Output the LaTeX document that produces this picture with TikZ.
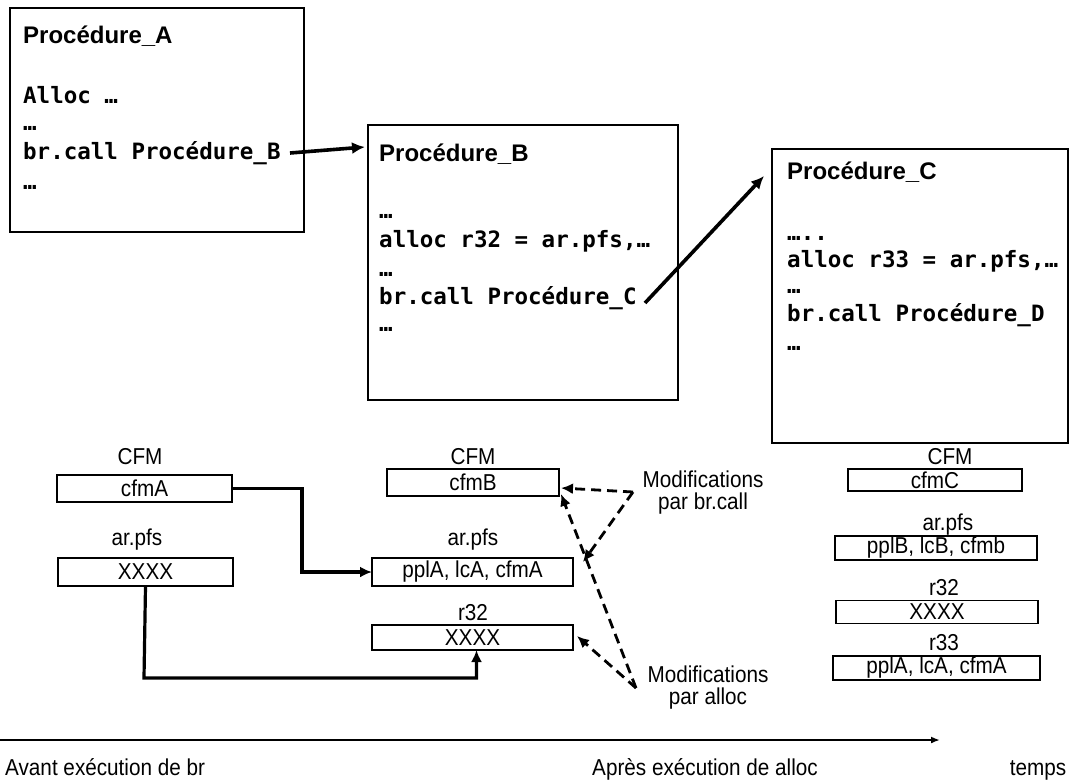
\documentclass[tikz,border=0pt]{standalone}
\usepackage{fontspec}
\setmainfont{Liberation Sans}
\newfontfamily\narrowfont[FakeStretch=0.9]{Liberation Sans}
\newfontfamily\codefont{DejaVu Sans Mono}
\usetikzlibrary{arrows.meta}
\tikzset{
  procbox/.style={draw, line width=2.6pt, inner sep=0pt, outer sep=0pt, anchor=north west},
  ptitle/.style={anchor=west, inner sep=0pt, font=\bfseries\fontsize{24}{24}\selectfont},
  code/.style={anchor=base west, inner sep=0pt, font=\codefont\bfseries\fontsize{22.5}{22.5}\selectfont},
  regbox/.style={draw, line width=1.7pt, inner sep=0pt, outer sep=0pt, font=\narrowfont\fontsize{23}{23}\selectfont},
  reglabel/.style={inner sep=0pt, font=\narrowfont\fontsize{23}{23}\selectfont},
  lbl/.style={inner sep=0pt, font=\narrowfont\fontsize{23}{23}\selectfont},
  callarrow/.style={line width=3.6pt, -{Latex[length=13pt,width=12pt]}},
  conn/.style={line width=3.2pt, -{Latex[length=12pt,width=11pt]}},
  dasharrow/.style={line width=2.8pt, dash pattern=on 10pt off 6pt, -{Latex[length=12pt,width=11pt]}},
  timeline/.style={line width=1.8pt, -{Latex[length=9pt,width=7pt]}}
}
\begin{document}
\begin{tikzpicture}[x=1pt,y=-1pt]
\useasboundingbox (0,0) rectangle (1073,782);

% Procedure boxes
\node[procbox, minimum width=294pt, minimum height=224pt] (A) at (10,8) {};
\node[procbox, minimum width=310pt, minimum height=275pt] (B) at (368,125) {};
\node[procbox, minimum width=296pt, minimum height=294pt] (C) at (772,149) {};

% Box A texts
\node[ptitle] (tA) at (23,36) {Procédure\_A};
\node[code] (a1) at (23,103) {Alloc …};
\node[code] (a2) at (23,130) {…};
\node[code] (a3) at (23,159) {br.call Procédure\_B};
\node[code] (a4) at (23,189) {…};

% Box B texts
\node[ptitle] (tB) at (379,154) {Procédure\_B};
\node[code] (b1) at (379,218) {…};
\node[code] (b2) at (379,247) {alloc r32 = ar.pfs,…};
\node[code] (b3) at (379,276) {…};
\node[code] (b4) at (379,304) {br.call Procédure\_C};
\node[code] (b5) at (379,331) {…};

% Box C texts
\node[ptitle] (tC) at (787,172) {Procédure\_C};
\node[code] (c1) at (787,240) {…..};
\node[code] (c2) at (787,267) {alloc r33 = ar.pfs,…};
\node[code] (c3) at (787,293) {…};
\node[code] (c4) at (787,321) {br.call Procédure\_D};
\node[code] (c5) at (787,350) {…};

% call arrows
\coordinate (sAB) at (290,153);
\coordinate (eAB) at (365,147);
\coordinate (sBC) at (645,303);
\coordinate (eBC) at (764,176);
\draw[callarrow] (sAB) -- (eAB);
\draw[callarrow] (sBC) -- (eBC);

% Left column registers
\node[reglabel] (lCFM1) at (140,457) {CFM};
\node[regbox, minimum width=175pt, minimum height=27pt] (cfmA) at (144.5,488.5) {cfmA};
\node[reglabel] (lpfs1) at (137,540) {ar.pfs};
\node[regbox, minimum width=175pt, minimum height=28pt] (xA) at (145.5,572) {XXXX};

% Middle column registers
\node[reglabel] (lCFM2) at (473,457) {CFM};
\node[regbox, minimum width=172pt, minimum height=27pt] (cfmB) at (473,482.5) {cfmB};
\node[reglabel] (lpfs2) at (473,540) {ar.pfs};
\node[regbox, minimum width=201pt, minimum height=28pt] (pplB) at (472.5,572) {pplA, lcA, cfmA};
\node[reglabel] (lr32B) at (473,613) {r32};
\node[regbox, minimum width=201pt, minimum height=25pt] (r32B) at (472.5,637.5) {XXXX};

% Right column registers
\node[reglabel] (lCFM3) at (950,457) {CFM};
\node[regbox, minimum width=174pt, minimum height=22pt] (cfmC) at (935,480) {cfmC};
\node[reglabel] (lpfs3) at (948,525) {ar.pfs};
\node[regbox, minimum width=202pt, minimum height=24pt] (pplC) at (936,548) {pplB, lcB, cfmb};
\node[reglabel] (lr32C) at (944,588) {r32};
\node[regbox, minimum width=202pt, minimum height=23pt] (r32C) at (937,612) {XXXX};
\node[reglabel] (lr33C) at (944,643) {r33};
\node[regbox, minimum width=207pt, minimum height=24pt] (r33C) at (936.5,668) {pplA, lcA, cfmA};

% Solid connectors
\coordinate (k1) at (302,572);
\coordinate (k2) at (144,678);
\draw[conn] (cfmA.east) -| (k1) -- (pplB.west);
\draw[conn] (xA.south) -- (k2) -| ([xshift=4pt]r32B.south);

% Modifications labels
\node[lbl] (m1) at (703,479) {Modifications};
\node[lbl] (m2) at (703,504) {par br.call};
\node[lbl] (m3) at (708,674) {Modifications};
\node[lbl] (m4) at (708,699) {par alloc};

% Dashed arrows
\coordinate (ap1) at (633,492);
\coordinate (ap2) at (636,688);
\coordinate (tcfm1) at (561,488);
\coordinate (tcfm2) at (561,494);
\coordinate (tppl) at (583,562);
\coordinate (tr32) at (577,636);
\draw[dasharrow] (ap1) -- (tcfm1);
\draw[dasharrow] (ap1) -- (tppl);
\draw[dasharrow] (ap2) -- (tcfm2);
\draw[dasharrow] (ap2) -- (tr32);

% Timeline
\coordinate (t0) at (0,740);
\coordinate (t1) at (940,740);
\draw[timeline] (t0) -- (t1);
\node[lbl, anchor=base west] (av) at (5,775) {Avant exécution de br};
\node[lbl, anchor=base] (ap) at (705,775) {Après exécution de alloc};
\node[lbl, anchor=base] (tp) at (1038,775) {temps};
\end{tikzpicture}
\end{document}
